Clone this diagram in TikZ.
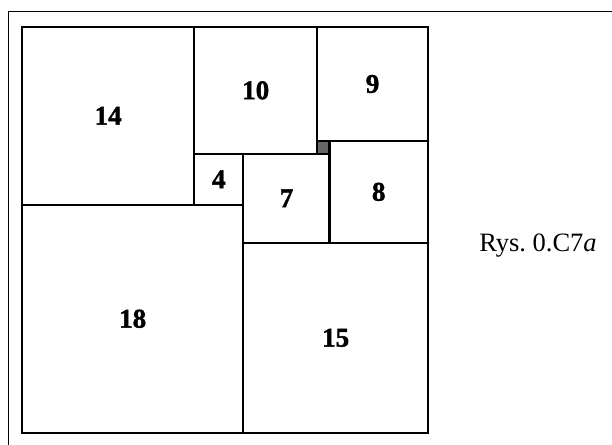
\documentclass[tikz,border=0pt]{standalone}
\usepackage{fontspec}
\setmainfont{Liberation Serif}

\tikzset{
    sq/.style={draw, line width=2.1pt},
    num/.style={font=\fontsize{27}{32}\selectfont\bfseries\addfontfeature{FakeBold=1.5}},
}

\begin{document}
\begin{tikzpicture}[x=12.3pt, y=12.69pt]
    \useasboundingbox (-1.789,-0.946) rectangle (47.967,34.12);

    % page frame
    \coordinate (fbl) at (-1.138,-0.946);
    \coordinate (ftr) at (47.967,33.25);
    \draw [line width=0.9pt] (fbl) |- (ftr);

    % squares
    \draw [sq] (0,0) rectangle node [num] (s18) {18} (18,18);
    \draw [sq] (0,18) rectangle node [num] (s14) {14} (14,32);
    \draw [sq] (14,22) rectangle node [num] (s10) {10} (24,32);
    \draw [sq] (24,23) rectangle node [num] (s9) {9} (33,32);
    \draw [sq] (14,18) rectangle node [num] (s4) {4} (18,22);
    \draw [sq] (18,15) rectangle node [num] (s7) {7} (25,22);
    \draw [sq] (25,15) rectangle node [num] (s8) {8} (33,23);
    \draw [sq] (18,0) rectangle node [num] (s15) {15} (33,15);
    \draw [sq, fill=black!60] (24,22) rectangle (25,23);

    % outer border
    \draw [sq] (0,0) rectangle (33,32);

    \node [font=\fontsize{26.5}{32}\selectfont] (cap) at (41.95,14.81) {Rys.~0.C7\textit{a}};
\end{tikzpicture}
\end{document}
